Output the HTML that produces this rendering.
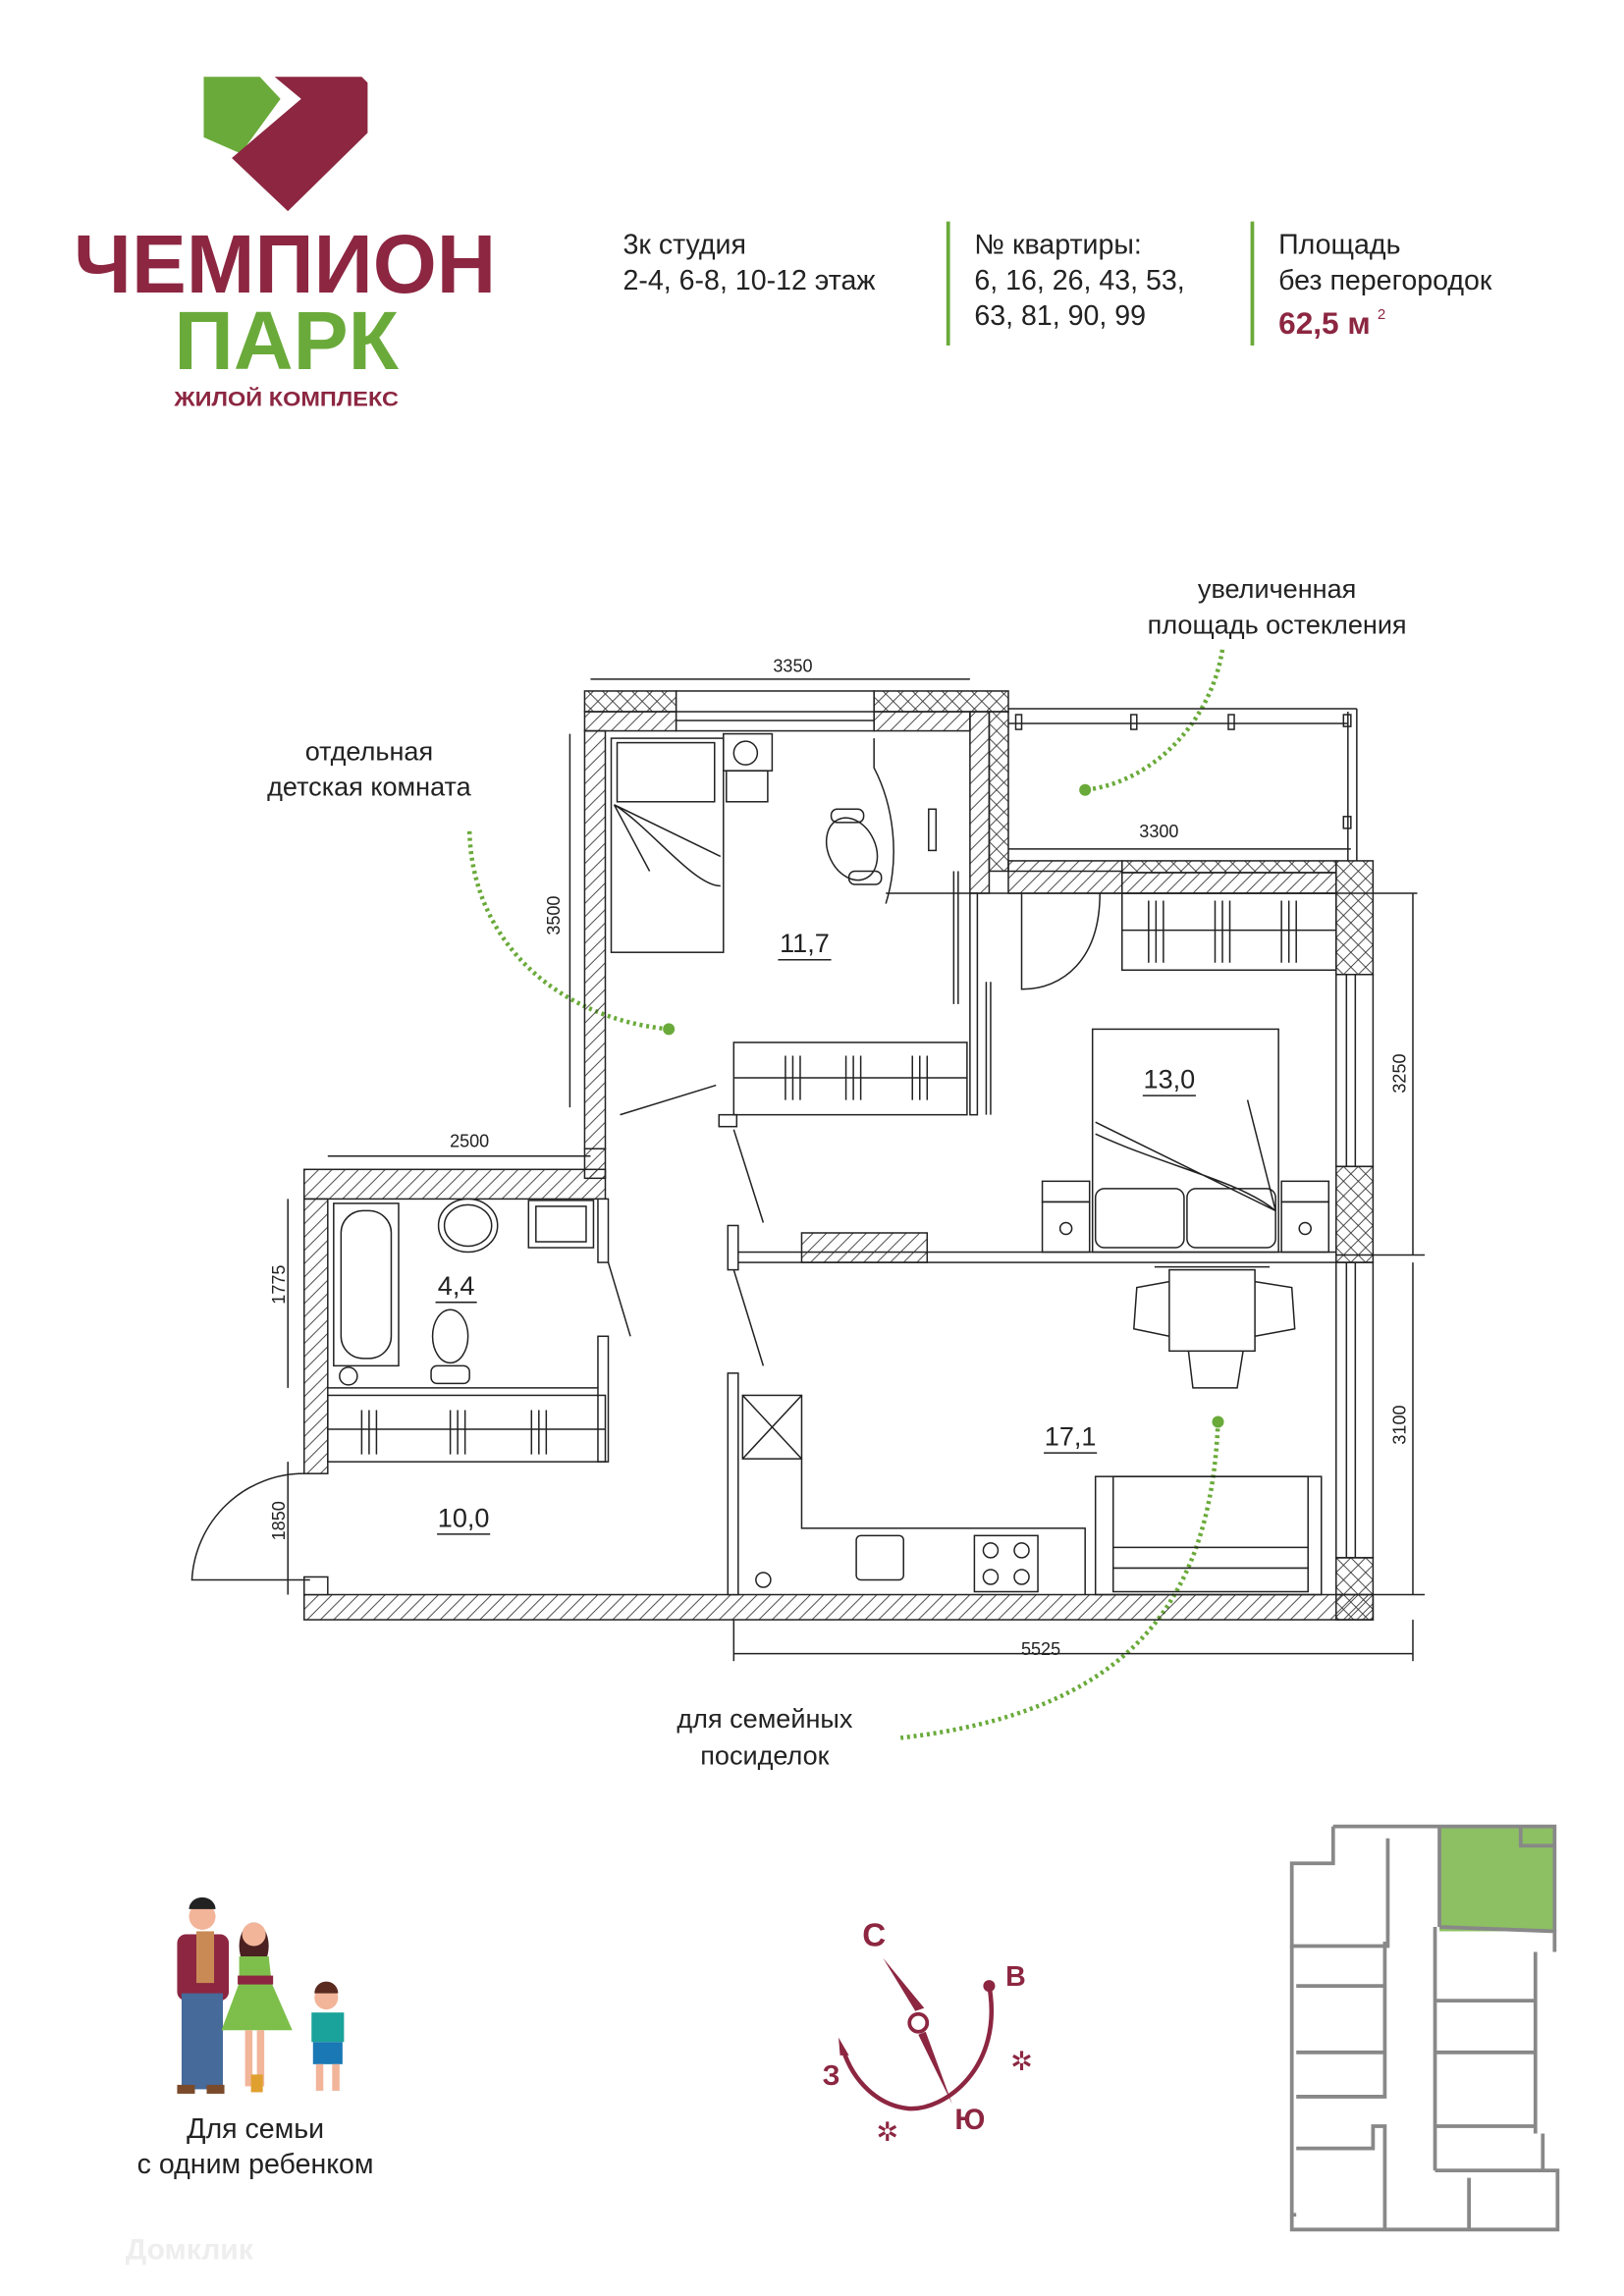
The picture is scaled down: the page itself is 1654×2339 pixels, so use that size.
<!DOCTYPE html>
<html><head><meta charset="utf-8"><style>
html,body{margin:0;padding:0;background:#fff}
svg{display:block}
text{font-family:"Liberation Sans","DejaVu Sans",sans-serif}
</style></head><body>
<svg width="1654" height="2339" viewBox="0 0 1100 1555" preserveAspectRatio="none" xmlns="http://www.w3.org/2000/svg">
<defs>
<pattern id="d" width="9" height="9" patternUnits="userSpaceOnUse"><path d="M0 9L9 0M-2 2L2 -2M7 11L11 7" stroke="#333" stroke-width="0.6"/></pattern>
<pattern id="x" width="10" height="10" patternUnits="userSpaceOnUse"><path d="M0 10L10 0M0 0L10 10" stroke="#333" stroke-width="0.6"/></pattern>
</defs>
<rect width="1100" height="1555" fill="#fff"/>
<!-- logo -->
<polygon points="138,52 176,52 190,67 163,104 138,93" fill="#6aaa3a"/>
<polygon points="186,52 245,52 249,56 249,90 195,143 157,107 204,67" fill="#8c2641"/>
<text x="193" y="198" font-size="56" font-weight="bold" fill="#8c2641" text-anchor="middle" textLength="286" lengthAdjust="spacingAndGlyphs">ЧЕМПИОН</text>
<text x="194" y="250" font-size="56" font-weight="bold" fill="#6aaa3a" text-anchor="middle" textLength="152" lengthAdjust="spacingAndGlyphs">ПАРК</text>
<text x="194" y="275" font-size="14" font-weight="bold" fill="#8c2641" text-anchor="middle" textLength="152" lengthAdjust="spacingAndGlyphs">ЖИЛОЙ КОМПЛЕКС</text>
<!-- header -->
<g font-size="19" fill="#222">
<text x="422" y="172">3к студия</text><text x="422" y="196">2-4, 6-8, 10-12 этаж</text>
<text x="660" y="172">№ квартиры:</text><text x="660" y="196">6, 16, 26, 43, 53,</text><text x="660" y="220">63, 81, 90, 99</text>
<text x="866" y="172">Площадь</text><text x="866" y="196">без перегородок</text>
</g>
<text x="866" y="226" font-size="21" font-weight="bold" fill="#8c2641">62,5 м</text><text x="933" y="216" font-size="10" fill="#8c2641">2</text>
<rect x="641" y="150" width="2.5" height="84" fill="#6aaa3a"/><rect x="847" y="150" width="2.5" height="84" fill="#6aaa3a"/>
<!-- annotations -->
<g font-size="18" fill="#222" text-anchor="middle">
<text x="250" y="515">отдельная</text><text x="250" y="539">детская комната</text>
<text x="865" y="405">увеличенная</text><text x="865" y="429">площадь остекления</text>
<text x="518" y="1170">для семейных</text><text x="518" y="1195">посиделок</text>
</g>
<g fill="none" stroke="#6aaa3a" stroke-width="3" stroke-dasharray="2 2.5">
<path d="M318 563 C320 640 380 690 453 697"/>
<path d="M828 440 C820 490 780 530 735 535"/>
<path d="M825 963 C820 1090 760 1160 610 1177"/>
</g>
<g fill="#6aaa3a"><circle cx="453" cy="697" r="4"/><circle cx="735" cy="535" r="4"/><circle cx="825" cy="963" r="4"/></g>
<!-- plan walls -->
<g stroke="#222" stroke-width="1">
<rect x="396" y="468" width="62" height="14" fill="url(#x)"/><rect x="396" y="482" width="62" height="13" fill="url(#d)"/>
<rect x="592" y="468" width="91" height="14" fill="url(#x)"/><rect x="592" y="482" width="65" height="13" fill="url(#d)"/>
<rect x="458" y="468" width="134" height="27" fill="#fff"/>
<line x1="458" y1="482" x2="592" y2="482"/><line x1="458" y1="488" x2="592" y2="488"/>
<rect x="396" y="495" width="14" height="283" fill="url(#d)"/>
<rect x="657" y="482" width="13" height="123" fill="url(#d)"/><rect x="670" y="482" width="13" height="108" fill="url(#x)"/>
<rect x="683" y="583" width="77" height="22" fill="url(#d)"/>
<rect x="760" y="583" width="145" height="8" fill="url(#x)"/><rect x="760" y="591" width="145" height="14" fill="url(#d)"/>
<rect x="905" y="583" width="25" height="77" fill="url(#x)"/>
<rect x="905" y="790" width="25" height="65" fill="url(#x)"/>
<rect x="905" y="1055" width="25" height="42" fill="url(#x)"/>
<rect x="905" y="660" width="25" height="130" fill="none"/><line x1="912" y1="660" x2="912" y2="790"/><line x1="918" y1="660" x2="918" y2="790"/>
<rect x="905" y="855" width="25" height="200" fill="none"/><line x1="912" y1="855" x2="912" y2="1055"/><line x1="918" y1="855" x2="918" y2="1055"/>
<rect x="206" y="1080" width="724" height="17" fill="url(#d)"/>
<rect x="206" y="792" width="204" height="20" fill="url(#d)"/>
<rect x="396" y="778" width="14" height="20" fill="url(#d)"/>
<rect x="206" y="812" width="16" height="186" fill="url(#d)"/>
<rect x="206" y="1068" width="16" height="12" fill="#fff"/>
<rect x="405" y="812" width="7" height="43" fill="#fff"/><rect x="405" y="905" width="7" height="85" fill="#fff"/>
<rect x="657" y="605" width="5" height="150" fill="#fff"/>
<rect x="497" y="848" width="408" height="7" fill="#fff"/>
<rect x="543" y="835" width="85" height="20" fill="url(#d)"/>
<rect x="493" y="830" width="7" height="30" fill="#fff"/><rect x="487" y="755" width="12" height="8" fill="#fff"/>
<rect x="493" y="930" width="7" height="150" fill="#fff"/>
</g>
<!-- balcony -->
<g stroke="#222" stroke-width="1" fill="none">
<line x1="683" y1="480" x2="919" y2="480"/><line x1="683" y1="490" x2="913" y2="490"/>
<line x1="913" y1="482" x2="913" y2="583"/><line x1="919" y1="480" x2="919" y2="583"/>
<line x1="683" y1="590" x2="760" y2="590"/>
<rect x="688" y="484" width="4" height="10"/><rect x="766" y="484" width="4" height="10"/><rect x="832" y="484" width="4" height="10"/><rect x="910" y="484" width="5" height="8"/><rect x="910" y="553" width="5" height="8"/>
<!-- dimensions -->
<line x1="400" y1="460" x2="657" y2="460"/><text x="537" y="455" font-size="12" fill="#222" stroke="none" text-anchor="middle">3350</text>
<line x1="683" y1="575" x2="915" y2="575"/><text x="785" y="567" font-size="12" fill="#222" stroke="none" text-anchor="middle">3300</text>
<line x1="386" y1="497" x2="386" y2="750"/><text transform="translate(379,620) rotate(-90)" font-size="12" fill="#222" stroke="none" text-anchor="middle">3500</text>
<line x1="957" y1="605" x2="957" y2="850"/><text transform="translate(952,727) rotate(-90)" font-size="12" fill="#222" stroke="none" text-anchor="middle">3250</text>
<line x1="957" y1="855" x2="957" y2="1080"/><text transform="translate(952,965) rotate(-90)" font-size="12" fill="#222" stroke="none" text-anchor="middle">3100</text>
<line x1="222" y1="783" x2="400" y2="783"/><text x="318" y="777" font-size="12" fill="#222" stroke="none" text-anchor="middle">2500</text>
<line x1="195" y1="812" x2="195" y2="940"/><text transform="translate(193,870) rotate(-90)" font-size="12" fill="#222" stroke="none" text-anchor="middle">1775</text>
<line x1="195" y1="990" x2="195" y2="1080"/><text transform="translate(193,1030) rotate(-90)" font-size="12" fill="#222" stroke="none" text-anchor="middle">1850</text>
<line x1="497" y1="1097" x2="497" y2="1125"/><line x1="957" y1="1097" x2="957" y2="1125"/><line x1="497" y1="1120" x2="957" y2="1120"/><text x="705" y="1121" font-size="12" fill="#222" stroke="none" text-anchor="middle">5525</text>
<line x1="600" y1="605" x2="960" y2="605"/><line x1="905" y1="850" x2="965" y2="850"/><line x1="905" y1="1080" x2="965" y2="1080"/>
<!-- child room furniture -->
<rect x="414" y="500" width="76" height="145"/><rect x="418" y="503" width="66" height="40"/><path d="M416 545 L488 580 M416 545 C440 560 470 600 488 600 M416 545 L440 590"/>
<rect x="490" y="497" width="33" height="25"/><circle cx="505" cy="510" r="8"/><rect x="492" y="522" width="28" height="21"/>
<ellipse cx="577" cy="575" rx="16" ry="22" transform="rotate(-25 577 575)"/><rect x="563" y="548" width="22" height="9" rx="4"/><rect x="575" y="590" width="22" height="9" rx="4"/>
<path d="M592 500 L592 520 C605 545 610 580 600 612"/><rect x="629" y="548" width="5" height="28"/>
<line x1="646" y1="590" x2="646" y2="680"/><line x1="649" y1="590" x2="649" y2="680"/>
<line x1="668" y1="665" x2="668" y2="755"/><line x1="671" y1="665" x2="671" y2="755"/>
<rect x="497" y="706" width="158" height="49"/><line x1="497" y1="730" x2="655" y2="730"/>
<path d="M532 715v30M537 715v30M542 715v30M573 715v30M578 715v30M583 715v30M618 715v30M623 715v30M628 715v30"/>
<line x1="420" y1="755" x2="485" y2="735"/>
<!-- corridor doors -->
<line x1="497" y1="765" x2="517" y2="828"/><line x1="497" y1="860" x2="517" y2="925"/>
<line x1="412" y1="855" x2="427" y2="905"/>
<!-- bedroom -->
<path d="M692 605 L692 670 C720 670 745 650 745 605"/>
<rect x="760" y="605" width="145" height="52"/><line x1="760" y1="630" x2="905" y2="630"/>
<path d="M778 610v42M783 610v42M788 610v42M823 610v42M828 610v42M833 610v42M868 610v42M873 610v42M878 610v42"/>
<rect x="740" y="697" width="126" height="151"/><path d="M742 760 L864 820 M742 768 C790 790 840 800 864 820 M845 745 L864 820"/>
<rect x="742" y="805" width="60" height="40" rx="6"/><rect x="804" y="805" width="60" height="40" rx="6"/>
<rect x="706" y="800" width="32" height="14"/><rect x="706" y="814" width="32" height="34"/><circle cx="722" cy="832" r="4"/>
<rect x="868" y="800" width="32" height="14"/><rect x="868" y="814" width="32" height="34"/><circle cx="884" cy="832" r="4"/>
<!-- bath -->
<rect x="226" y="815" width="44" height="110"/><rect x="231" y="820" width="34" height="100" rx="15"/><circle cx="236" cy="932" r="6"/>
<line x1="222" y1="940" x2="405" y2="940"/>
<ellipse cx="317" cy="830" rx="20" ry="18"/><ellipse cx="317" cy="830" rx="16" ry="14"/>
<rect x="358" y="813" width="44" height="32"/><rect x="363" y="817" width="34" height="24"/>
<ellipse cx="305" cy="905" rx="12" ry="18"/><rect x="292" y="925" width="26" height="12" rx="4"/>
<rect x="222" y="945" width="188" height="45"/><line x1="222" y1="968" x2="410" y2="968"/>
<path d="M245 955v30M250 955v30M255 955v30M305 955v30M310 955v30M315 955v30M360 955v30M365 955v30M370 955v30"/>
<path d="M206 998 A76 76 0 0 0 130 1070 L210 1070"/>
<!-- living/kitchen -->
<rect x="792" y="860" width="58" height="55"/><line x1="782" y1="858" x2="860" y2="858"/><path d="M792 868 L770 872 L768 900 L792 905 M850 868 L875 872 L877 900 L850 905 M805 915 L808 940 L838 940 L842 915"/>
<rect x="503" y="945" width="40" height="43"/><path d="M503 945L543 988M543 945L503 988"/>
<path d="M543 988 L543 1035 L735 1035 L735 1080"/>
<rect x="580" y="1040" width="32" height="30" rx="3"/><circle cx="517" cy="1070" r="5"/>
<rect x="660" y="1040" width="43" height="38"/><circle cx="671" cy="1050" r="5"/><circle cx="692" cy="1050" r="5"/><circle cx="671" cy="1068" r="5"/><circle cx="692" cy="1068" r="5"/>
<rect x="742" y="1000" width="153" height="80"/><rect x="754" y="1000" width="132" height="78"/><line x1="754" y1="1048" x2="886" y2="1048"/><line x1="754" y1="1062" x2="886" y2="1062"/>
</g>
<g font-size="18" fill="#222" text-anchor="middle">
<text x="545" y="645">11,7</text><text x="792" y="737">13,0</text><text x="309" y="877">4,4</text><text x="725" y="979">17,1</text><text x="314" y="1034">10,0</text>
</g>
<g stroke="#222" stroke-width="1"><line x1="527" y1="650" x2="563" y2="650"/><line x1="774" y1="742" x2="810" y2="742"/><line x1="295" y1="882" x2="323" y2="882"/><line x1="707" y1="984" x2="743" y2="984"/><line x1="296" y1="1039" x2="332" y2="1039"/></g>
<!-- family -->
<circle cx="137" cy="1298" r="9" fill="#f2b59a"/><path d="M128 1293 a9 8 0 0 1 18 0z" fill="#222"/>
<rect x="120" y="1310" width="35" height="45" rx="6" fill="#8c2641"/><rect x="133" y="1308" width="12" height="35" fill="#c98a55"/>
<rect x="123" y="1350" width="28" height="65" fill="#466a9a"/><rect x="120" y="1412" width="12" height="6" fill="#7a4a2a"/><rect x="140" y="1412" width="12" height="6" fill="#7a4a2a"/>
<ellipse cx="172" cy="1318" rx="10" ry="16" fill="#4a2020"/><circle cx="172" cy="1310" r="8" fill="#f2b59a"/>
<path d="M162 1325 L182 1325 L184 1343 L198 1375 L150 1375 L162 1343z" fill="#7dbf4a"/><rect x="161" y="1338" width="24" height="6" fill="#8c2641"/>
<rect x="166" y="1375" width="5" height="38" fill="#f2b59a"/><rect x="174" y="1375" width="5" height="38" fill="#f2b59a"/><rect x="170" y="1405" width="8" height="12" fill="#e0a030"/>
<circle cx="221" cy="1353" r="8" fill="#f2b59a"/><path d="M213 1350 a8 8 0 0 1 16 0z" fill="#5a2a20"/>
<rect x="211" y="1363" width="22" height="20" fill="#1aa39a"/><rect x="212" y="1383" width="20" height="15" fill="#1a78b4"/>
<rect x="214" y="1398" width="5" height="18" fill="#f2b59a"/><rect x="225" y="1398" width="5" height="18" fill="#f2b59a"/>
<g font-size="19" fill="#222" text-anchor="middle"><text x="173" y="1448">Для семьи</text><text x="173" y="1472">с одним ребенком</text></g>
<!-- compass -->
<g fill="#8c2641" stroke="none">
<text x="592" y="1318" font-size="22" font-weight="bold" text-anchor="middle">С</text>
<text x="688" y="1345" font-size="19" font-weight="bold" text-anchor="middle">В</text>
<text x="563" y="1412" font-size="19" font-weight="bold" text-anchor="middle">З</text>
<text x="657" y="1442" font-size="20" font-weight="bold" text-anchor="middle">Ю</text>
<text x="692" y="1402" font-size="18" text-anchor="middle">✲</text>
<text x="601" y="1450" font-size="18" text-anchor="middle">✲</text>
<polygon points="598,1326 620,1362 626,1360"/><polygon points="622,1378 645,1425 627,1376" fill="#8c2641"/>
<circle cx="670" cy="1345" r="4"/>
</g>
<circle cx="622" cy="1370" r="6" fill="#fff" stroke="#8c2641" stroke-width="2.5"/>
<path d="M670 1345 C680 1400 640 1430 615 1428 C595 1426 578 1410 571 1388" fill="none" stroke="#8c2641" stroke-width="3"/>
<polygon points="568,1380 575,1392 569,1392" fill="#8c2641"/>
<!-- mini plan -->
<g fill="none" stroke="#888" stroke-width="2.5">
<rect x="975" y="1237" width="78" height="71" fill="#8cc063" stroke="none"/>
<path d="M903 1237 L1053 1237 L1053 1308 M1053 1250 L1030 1250 L1030 1238"/>
<path d="M903 1237 L903 1262 L875 1262 L875 1318 L940 1318 L940 1302 L940 1245"/>
<path d="M975 1237 L975 1305 M975 1305 L1053 1308 L1053 1322"/>
<path d="M875 1318 L875 1510 L1055 1510 L1055 1470 L1045 1470 L1045 1445 M1040 1322 L1040 1445"/>
<path d="M878 1345 L938 1345 L938 1420 L878 1420 M938 1345 L938 1315"/>
<path d="M972 1355 L1040 1355 M972 1390 L1040 1390 M972 1440 L1040 1440 M972 1305 L972 1470"/>
<path d="M878 1455 L930 1455 L930 1440 L938 1440 L938 1480 M938 1480 L938 1510 M995 1475 L995 1510 M972 1470 L1045 1470 M878 1500 L875 1500"/>
<path d="M878 1390 L938 1390"/>
</g>
<text x="85" y="1530" font-size="20" fill="#eee" font-weight="bold">Домклик</text>
</svg>
</body></html>
